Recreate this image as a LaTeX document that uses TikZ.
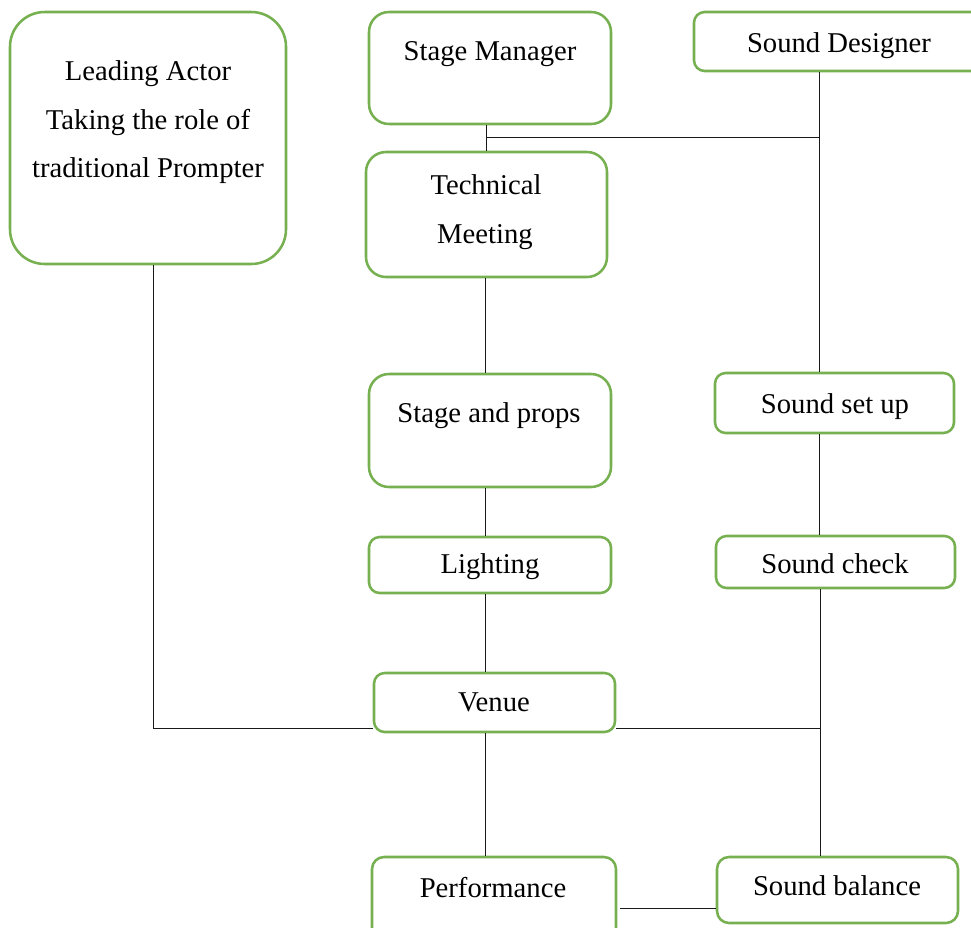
\documentclass[tikz,border=0pt]{standalone}
\usepackage{fontspec}
\setmainfont{Liberation Serif}
\usetikzlibrary{fit}
\definecolor{boxgreen}{RGB}{118,176,80}
\definecolor{wireink}{RGB}{25,25,25}

\begin{document}
\begin{tikzpicture}[x=0.75pt,y=-0.75pt,
  box/.style={draw=boxgreen, line width=1.9pt, inner sep=0pt, fill=white},
  txt/.style={anchor=base, inner sep=0pt, font=\fontsize{21.5}{26}\selectfont},
  wire/.style={draw=wireink, line width=0.8pt}]
\useasboundingbox (0,0) rectangle (971,928);

% boxes
\node[box, rounded corners=26pt, fit={(10,12) (286,264)}] (lead) {};
\node[box, rounded corners=15pt, fit={(369,12) (611,124)}] (mgr) {};
\node[box, rounded corners=8pt, fit={(694,12) (995,71)}] (designer) {};
\node[box, rounded corners=15pt, fit={(366,152) (607,277)}] (meeting) {};
\node[box, rounded corners=15pt, fit={(369,374) (611,487)}] (props) {};
\node[box, rounded corners=8pt, fit={(715,373) (954,433)}] (setup) {};
\node[box, rounded corners=8pt, fit={(369,537) (611,593)}] (lighting) {};
\node[box, rounded corners=8pt, fit={(716,536) (955,588)}] (check) {};
\node[box, rounded corners=8pt, fit={(374,673) (615,732)}] (venue) {};
\node[box, rounded corners=9pt, fit={(372,857) (616,950)}] (perf) {};
\node[box, rounded corners=9pt, fit={(717,857) (958,923)}] (balance) {};

% labels
\node[txt] (leadA) at (148,80) {Leading Actor};
\node[txt] (leadB) at (148,129) {Taking the role of};
\node[txt] (leadC) at (148,177) {traditional Prompter};
\node[txt] (mgrT) at (490,60) {Stage Manager};
\node[txt] (designerT) at (839,52) {Sound Designer};
\node[txt] (meetingA) at (486,194) {Technical};
\node[txt] (meetingB) at (485,243) {Meeting};
\node[txt] (propsT) at (489,422) {Stage and props};
\node[txt] (setupT) at (835,413) {Sound set up};
\node[txt] (lightingT) at (490,573) {Lighting};
\node[txt] (checkT) at (835,573) {Sound check};
\node[txt] (venueT) at (494,711) {Venue};
\node[txt] (perfT) at (493,897) {Performance};
\node[txt] (balanceT) at (837,895) {Sound balance};

% junction points of the connector network
\coordinate (midcol) at (485.5,0);
\coordinate (mgrTee) at (486.5,137.5);
\coordinate (sndTee) at (819.5,137.5);
\coordinate (sndCol) at (819.5,0);
\coordinate (venueR) at (820.5,728.5);
\coordinate (leadCorner) at (153.5,728.5);
\coordinate (lowRow) at (0,908.5);

% centre column
\draw[wire] (mgr.south -| mgrTee) -- (meeting.north -| mgrTee);
\draw[wire] (mgrTee) -- (sndTee);
\draw[wire] (meeting.south -| midcol) -- (props.north -| midcol);
\draw[wire] (props.south -| midcol) -- (lighting.north -| midcol);
\draw[wire] (lighting.south -| midcol) -- (venue.north -| midcol);
\draw[wire] (venue.south -| midcol) -- (perf.north -| midcol);

% sound column
\draw[wire] (designer.south -| sndCol) -- (setup.north -| sndCol);
\draw[wire] (setup.south -| sndCol) -- (check.north -| sndCol);
\draw[wire] (check.south -| venueR) -- (balance.north -| venueR);
\draw[wire] (venue.east |- venueR) -- (venueR);

% prompter link and bottom link
\draw[wire] (lead.south -| leadCorner) -- (leadCorner) -- (venue.west |- leadCorner);
\draw[wire] ([xshift=2pt]perf.east |- lowRow) -- (balance.west |- lowRow);
\end{tikzpicture}
\end{document}
